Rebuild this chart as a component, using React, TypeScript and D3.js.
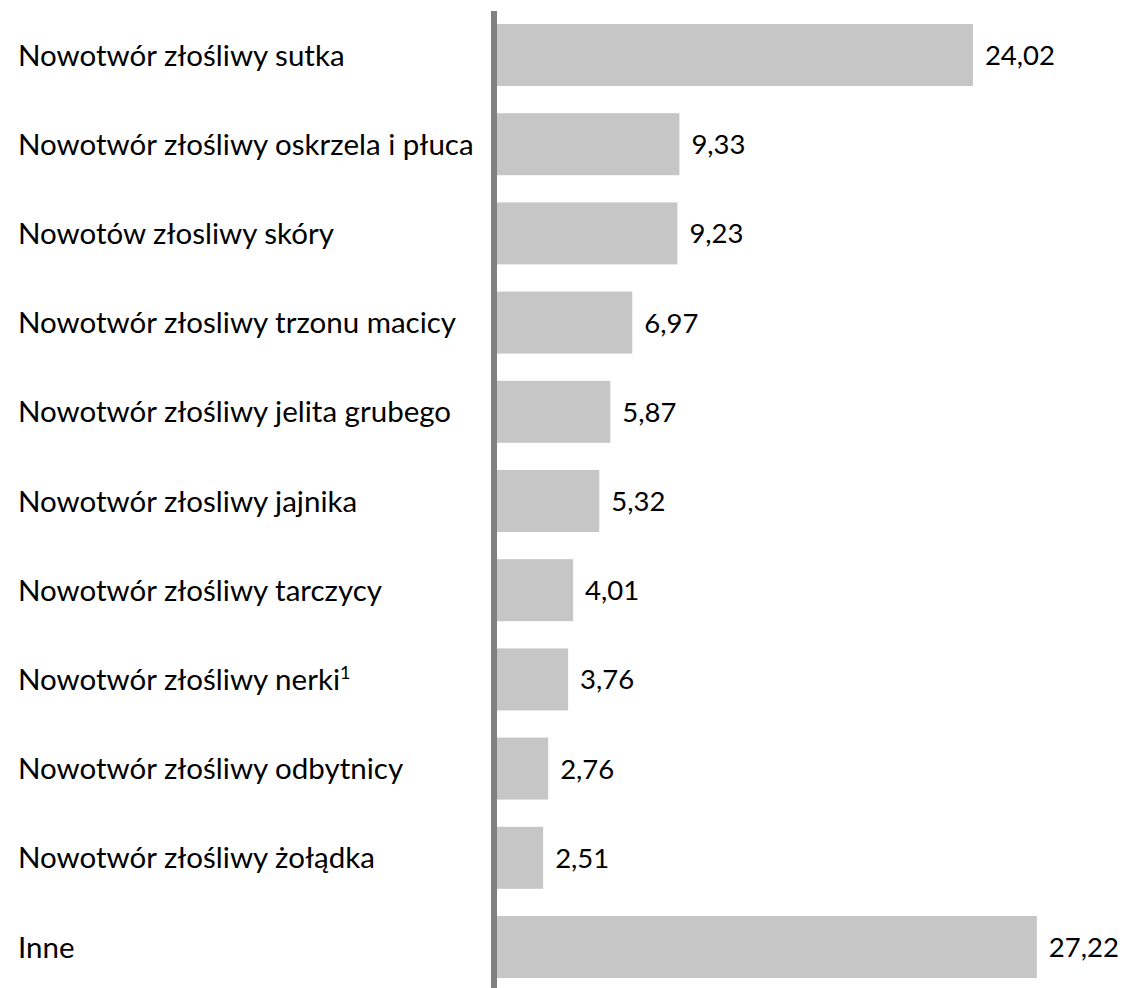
import * as d3 from "d3";

const categories = [
  "Nowotwór złośliwy sutka",
  "Nowotwór złośliwy oskrzela i płuca",
  "Nowotów złosliwy skóry",
  "Nowotwór złosliwy trzonu macicy",
  "Nowotwór złośliwy jelita grubego",
  "Nowotwór złosliwy jajnika",
  "Nowotwór złośliwy tarczycy",
  "Nowotwór złośliwy nerki",
  "Nowotwór złośliwy odbytnicy",
  "Nowotwór złośliwy żołądka",
  "Inne",
];
const values = [24.02, 9.33, 9.23, 6.97, 5.87, 5.32, 4.01, 3.76, 2.76, 2.51, 27.22];
// footnote markers appended to labels
const footnotes = ["", "", "", "", "", "", "", "1", "", "", ""];

const width = 1125;
const height = 988;
const FONT = "Lato, 'Open Sans', sans-serif";

const plFormat = d3.formatLocale({
  decimal: ",",
  thousands: " ",
  grouping: [3],
  currency: ["", " zł"],
}).format(".2f");

export default function App() {
  const x = d3.scaleLinear().domain([0, 1]).range([493, 493 + 19.98]);
  const y = d3
    .scaleBand<string>()
    .domain(categories)
    .range([10.4, 991.6])
    .paddingInner(0.305)
    .paddingOuter(0.1525);

  return (
    <svg
      width={width}
      height={height}
      style={{ position: "absolute", left: 0, top: 0, display: "block", background: "#fff" }}
      fontFamily={FONT}
    >
      {categories.map((c, i) => {
        const yc = (y(c) ?? 0) + y.bandwidth() / 2;
        return (
          <g key={c}>
            <rect
              x={x(0)}
              y={y(c)}
              width={x(values[i]) - x(0)}
              height={y.bandwidth()}
              fill="#c6c6c6"
            />
            <text x={18} y={yc} dy="0.36em" fontSize={29.5} fill="#000">
              {c}
              {footnotes[i] && (
                <tspan fontSize={18} dy="-0.6em">
                  {footnotes[i]}
                </tspan>
              )}
            </text>
            <text x={x(values[i]) + 12} y={yc} dy="0.36em" fontSize={27.5} fill="#000">
              {plFormat(values[i])}
            </text>
          </g>
        );
      })}
      <line x1={494} x2={494} y1={11} y2={height} stroke="#808080" strokeWidth={6} />
    </svg>
  );
}
